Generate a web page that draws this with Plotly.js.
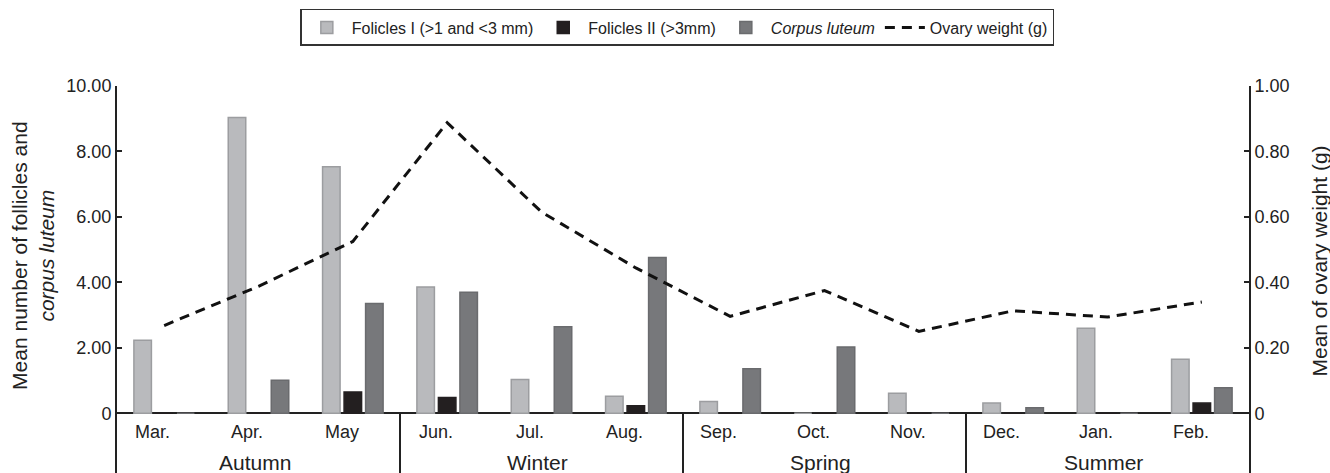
<!DOCTYPE html>
<html>
<head>
<meta charset="utf-8">
<script src="https://cdn.plot.ly/plotly-3.0.1.min.js"></script>
<style>html,body{margin:0;padding:0;background:#fff;}#chart{width:1330px;height:473px;}</style>
</head>
<body>
<div id="chart"></div>
<script>
const months = ["Mar.","Apr.","May","Jun.","Jul.","Aug.","Sep.","Oct.","Nov.","Dec.","Jan.","Feb."];
const seasons = ["Autumn","Winter","Spring","Summer"];
const folliclesI = [2.23, 9.04, 7.53, 3.86, 1.03, 0.52, 0.36, 0, 0.61, 0.31, 2.60, 1.65];
const folliclesII = [0, 0, 0.65, 0.48, 0, 0.23, 0, 0, 0, 0, 0, 0.31];
const corpusLuteum = [0, 1.01, 3.35, 3.70, 2.64, 4.76, 1.36, 2.02, 0, 0.17, 0, 0.78];
const ovaryWeight = [0.268, 0.388, 0.525, 0.888, 0.615, 0.444, 0.296, 0.375, 0.25, 0.313, 0.294, 0.34];
const leftTicks = [0, 2, 4, 6, 8, 10];
const leftTickText = ["0", "2.00", "4.00", "6.00", "8.00", "10.00"];
const rightTicks = [0, 0.2, 0.4, 0.6, 0.8, 1.0];
const rightTickText = ["0", "0.20", "0.40", "0.60", "0.80", "1.00"];

const idx = months.map((m, i) => i);
const FONT = "Liberation Sans, Arial, Helvetica, sans-serif";
const yMin = -1.827, yMax = 10;

const traces = [
  {type: "bar", name: "Folicles I (>1 and <3 mm)", x: idx, y: folliclesI,
   marker: {color: "#b9babd", line: {color: "#9c9da0", width: 1.5}}},
  {type: "bar", name: "Folicles II (>3mm)", x: idx, y: folliclesII,
   marker: {color: "#231f20", line: {color: "#231f20", width: 1.5}}},
  {type: "bar", name: "<i>Corpus luteum</i>", x: idx, y: corpusLuteum,
   marker: {color: "#77787b", line: {color: "#6a6b6e", width: 1.5}}},
  {type: "scatter", mode: "lines", name: "Ovary weight (g)", x: idx, y: ovaryWeight, yaxis: "y2",
   line: {color: "#111", width: 3, dash: "10px,7px"}}
];

const annotations = [];
months.forEach((m, i) => {
  annotations.push({x: i - 0.12, y: -0.57, xref: "x", yref: "y", text: m, showarrow: false,
    xanchor: "center", yanchor: "middle", font: {family: FONT, size: 18, color: "#222"}});
});
seasons.forEach((s, k) => {
  annotations.push({x: k * 3 + 1 - 0.04, y: -1.52, xref: "x", yref: "y", text: s, showarrow: false,
    xanchor: "center", yanchor: "middle", font: {family: FONT, size: 21, color: "#222"}});
});
annotations.push({x: -0.0742, y: 0.561, xref: "paper", yref: "paper", textangle: -90,
  text: "Mean number of follicles and<br><i>corpus luteum</i>", showarrow: false,
  xanchor: "center", yanchor: "middle", font: {family: FONT, size: 21, color: "#222"}});
annotations.push({x: 1.062, y: 0.547, xref: "paper", yref: "paper", textangle: -90,
  text: "Mean of ovary weight (g)", showarrow: false,
  xanchor: "center", yanchor: "middle", font: {family: FONT, size: 21, color: "#222"}});

const shapes = [];
for (let k = 1; k < seasons.length; k++) {
  shapes.push({type: "line", xref: "x", yref: "y", x0: k * 3 - 0.5, x1: k * 3 - 0.5, y0: 0, y1: yMin,
    line: {color: "#222", width: 2}});
}

const layout = {
  width: 1330, height: 473,
  margin: {l: 117, r: 81, t: 86, b: 0},
  paper_bgcolor: "#fff", plot_bgcolor: "#fff",
  font: {family: FONT, color: "#222"},
  barmode: "group", bargap: 0.316, bargroupgap: 0.186,
  showlegend: true,
  legend: {orientation: "h", x: 0.495, xanchor: "center", y: 1.199, yanchor: "top",
    bordercolor: "#333", borderwidth: 1.5, font: {family: FONT, size: 16, color: "#222"},
    itemwidth: 40, traceorder: "normal"},
  xaxis: {range: [-0.5, 11.5], showgrid: false, zeroline: false, showline: false,
    showticklabels: false, ticks: "", fixedrange: true},
  yaxis: {range: [yMin, yMax], tickvals: leftTicks, ticktext: leftTickText, showgrid: false,
    zeroline: true, zerolinecolor: "#222", zerolinewidth: 2,
    showline: true, linecolor: "#222", linewidth: 2, ticks: "inside", ticklen: 5, tickwidth: 2, tickcolor: "#222",
    tickfont: {family: FONT, size: 18, color: "#222"}},
  yaxis2: {range: [yMin / 10, yMax / 10], overlaying: "y", side: "right", tickvals: rightTicks, ticktext: rightTickText,
    showgrid: false, zeroline: false, showline: true, linecolor: "#222", linewidth: 2,
    ticks: "inside", ticklen: 5, tickwidth: 2, tickcolor: "#222",
    tickfont: {family: FONT, size: 18, color: "#222"}},
  annotations: annotations,
  shapes: shapes
};

Plotly.newPlot("chart", traces, layout, {staticPlot: true, displayModeBar: false});
</script>
</body>
</html>
